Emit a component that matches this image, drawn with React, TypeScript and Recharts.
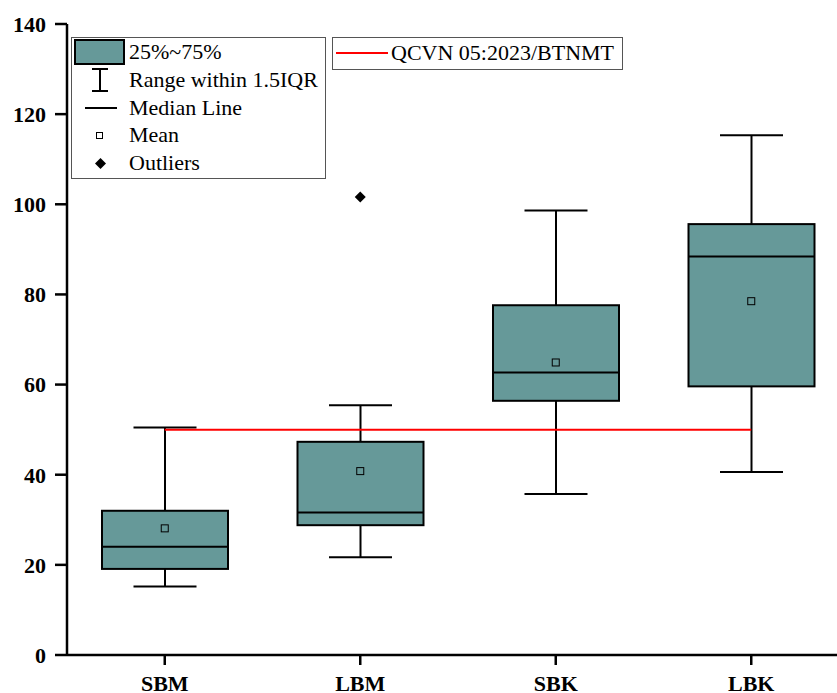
import { ComposedChart, Bar, Line, Scatter, XAxis, YAxis } from 'recharts'

const categories = ['SBM', 'LBM', 'SBK', 'LBK']
const whiskerLow = [15.2, 21.7, 35.7, 40.6]
const q1 = [19.1, 28.8, 56.4, 59.6]
const median = [24.0, 31.6, 62.7, 88.4]
const q3 = [32.0, 47.3, 77.6, 95.6]
const whiskerHigh = [50.5, 55.4, 98.6, 115.3]
const means = [28.1, 40.8, 64.9, 78.5]
const outliers: (number | null)[] = [null, 101.6, null, null]
const limit = [50, 50, 50, 50]
const yTicks = [0, 20, 40, 60, 80, 100, 120, 140]

const data = categories.map((name, i) => ({
  name,
  low: whiskerLow[i],
  q1: q1[i],
  median: median[i],
  q3: q3[i],
  high: whiskerHigh[i],
  mean: means[i],
  outlier: outliers[i],
  limit: limit[i],
}))

const BOX = '#669999'
const FONT = '"Liberation Serif", "Times New Roman", serif'

if (typeof document !== 'undefined') {
  document.documentElement.style.overflow = 'hidden'
  document.body.style.overflow = 'hidden'
}

function BoxShape(props: any) {
  const { x, y, width, height, payload } = props
  if (!payload) return null
  const k = height / (payload.high - payload.low)
  const yOf = (v: number) => y + (payload.high - v) * k
  const cx = x + width / 2
  const cap = width / 4
  return (
    <g>
      <line x1={cx} x2={cx} y1={yOf(payload.high)} y2={yOf(payload.q3)} stroke="#000" strokeWidth={2} />
      <line x1={cx} x2={cx} y1={yOf(payload.q1)} y2={yOf(payload.low)} stroke="#000" strokeWidth={2} />
      <line x1={cx - cap} x2={cx + cap} y1={yOf(payload.high)} y2={yOf(payload.high)} stroke="#000" strokeWidth={2} />
      <line x1={cx - cap} x2={cx + cap} y1={yOf(payload.low)} y2={yOf(payload.low)} stroke="#000" strokeWidth={2} />
      <rect x={x} y={yOf(payload.q3)} width={width} height={yOf(payload.q1) - yOf(payload.q3)}
        fill={BOX} stroke="#000" strokeWidth={2} />
      <line x1={x} x2={x + width} y1={yOf(payload.median)} y2={yOf(payload.median)} stroke="#000" strokeWidth={2} />
    </g>
  )
}

function MeanShape(props: any) {
  const { cx, cy } = props
  if (cx == null || cy == null || isNaN(cy)) return null
  return <rect x={cx - 3.5} y={cy - 3.5} width={7} height={7} fill="none" stroke="#000" strokeWidth={1} />
}

function OutlierShape(props: any) {
  const { cx, cy, payload } = props
  if (!payload || payload.outlier == null || cy == null || isNaN(cy)) return null
  return <path d={`M${cx},${cy - 5.5}L${cx + 5.5},${cy}L${cx},${cy + 5.5}L${cx - 5.5},${cy}Z`} fill="#000" />
}

const rowStyle: React.CSSProperties = { position: 'absolute', left: 57, fontSize: 22, lineHeight: '24px', whiteSpace: 'nowrap' }

export default function App() {
  return (
    <div style={{ position: 'absolute', left: 0, top: 0, width: 837, height: 693, overflow: 'hidden', background: '#fff', fontFamily: FONT }}>
      <ComposedChart width={837} height={693} data={data} margin={{ top: 24, right: 0, bottom: 0, left: 0 }}>
        <XAxis dataKey="name" xAxisId="top" orientation="top" tick={false} tickLine={false} height={0}
          padding={{ left: 0, right: -12 }} axisLine={{ stroke: '#000', strokeWidth: 2.5 }} />
        <XAxis dataKey="name" height={38} tickSize={10} tickMargin={10} padding={{ left: 0, right: -12 }}
          axisLine={{ stroke: '#000', strokeWidth: 2.5 }} tickLine={{ stroke: '#000', strokeWidth: 2.5 }}
          tick={{ fill: '#000', fontSize: 22, fontWeight: 'bold', fontFamily: FONT }} />
        <YAxis domain={[0, 140]} ticks={yTicks} width={67} tickSize={12} tickMargin={9}
          axisLine={{ stroke: '#000', strokeWidth: 2.5 }} tickLine={{ stroke: '#000', strokeWidth: 2.5 }}
          tick={{ fill: '#000', fontSize: 22, fontWeight: 'bold', fontFamily: FONT }} />
        <Bar dataKey={(d: any) => [d.low, d.high]} barSize={126} shape={<BoxShape />} isAnimationActive={false} />
        <Line dataKey="limit" stroke="#ff0000" strokeWidth={2} dot={false} activeDot={false} isAnimationActive={false} />
        <Scatter dataKey="mean" shape={<MeanShape />} isAnimationActive={false} />
        <Scatter dataKey="outlier" shape={<OutlierShape />} isAnimationActive={false} />
      </ComposedChart>

      <div style={{ position: 'absolute', left: 71, top: 37, width: 253, height: 140, border: '1px solid #555', background: '#fff' }}>
        <div style={{ position: 'absolute', left: 2, top: 1, width: 51, height: 26, background: BOX, border: '2px solid #000', boxSizing: 'border-box' }} />
        <div style={{ ...rowStyle, top: 2 }}>25%~75%</div>
        <svg style={{ position: 'absolute', left: 12, top: 29 }} width={30} height={26}>
          <line x1={8} x2={24} y1={2} y2={2} stroke="#000" strokeWidth={2} />
          <line x1={16} x2={16} y1={2} y2={24} stroke="#000" strokeWidth={2} />
          <line x1={8} x2={24} y1={24} y2={24} stroke="#000" strokeWidth={2} />
        </svg>
        <div style={{ ...rowStyle, top: 30 }}>Range within 1.5IQR</div>
        <svg style={{ position: 'absolute', left: 12, top: 65 }} width={34} height={10}>
          <line x1={1} x2={33} y1={5} y2={5} stroke="#000" strokeWidth={2} />
        </svg>
        <div style={{ ...rowStyle, top: 58 }}>Median Line</div>
        <svg style={{ position: 'absolute', left: 22, top: 92 }} width={12} height={12}>
          <rect x={2.5} y={2.5} width={6} height={6} fill="#fff" stroke="#000" strokeWidth={1} />
        </svg>
        <div style={{ ...rowStyle, top: 85 }}>Mean</div>
        <svg style={{ position: 'absolute', left: 22, top: 119 }} width={14} height={14}>
          <path d="M6.5,1L12,6.5L6.5,12L1,6.5Z" fill="#000" />
        </svg>
        <div style={{ ...rowStyle, top: 113 }}>Outliers</div>
      </div>

      <div style={{ position: 'absolute', left: 332, top: 37, width: 289, height: 31, border: '1px solid #555', background: '#fff' }}>
        <svg style={{ position: 'absolute', left: 2, top: 10 }} width={54} height={10}>
          <line x1={1} x2={53} y1={5} y2={5} stroke="#ff0000" strokeWidth={2} />
        </svg>
        <div style={{ position: 'absolute', left: 58, top: 3, fontSize: 22, lineHeight: '24px', whiteSpace: 'nowrap' }}>QCVN 05:2023/BTNMT</div>
      </div>
    </div>
  )
}
